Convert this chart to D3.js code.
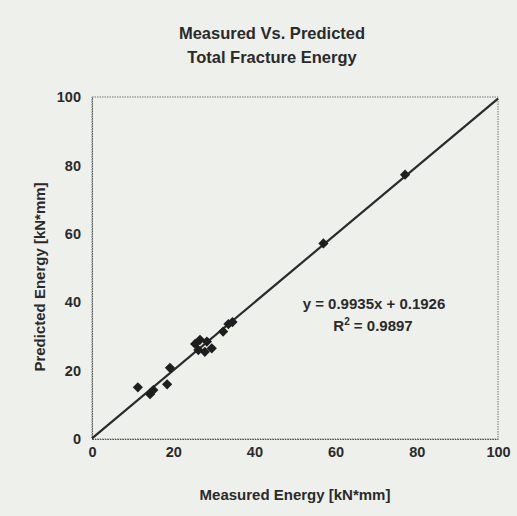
<!DOCTYPE html>
<html>
<head>
<meta charset="utf-8">
<script src="https://cdn.jsdelivr.net/npm/d3@7"></script>
<style>
html,body{margin:0;padding:0;background:#eef0ec;}
svg{display:block;}
text{font-family:"Liberation Sans",Arial,sans-serif;font-weight:bold;fill:#2a2a2a;}
</style>
</head>
<body>
<svg id="chart" width="517" height="516"></svg>
<script>
const titleLines = ["Measured Vs. Predicted", "Total Fracture Energy"];
const xLabel = "Measured Energy [kN*mm]";
const yLabel = "Predicted Energy [kN*mm]";
const tickValues = [0, 20, 40, 60, 80, 100];
const measured  = [11.3, 14.3, 15.1, 18.5, 19.2, 25.4, 26.6, 28.3, 27.8, 29.5, 26.2, 32.3, 33.6, 34.6, 57.0, 77.1];
const predicted = [15.1, 13.1, 14.3, 16.0, 20.8, 27.8, 29.0, 28.5, 25.5, 26.5, 26.0, 31.4, 33.6, 34.2, 57.2, 77.3];
const slope = 0.9935, intercept = 0.1926;
const eqText = "y = 0.9935x + 0.1926";
const r2Value = "0.9897";

const svg = d3.select("#chart");
const L = 92, R = 498, T = 97, B = 439;
const x = d3.scaleLinear().domain([0, 100]).range([L, R]);
const y = d3.scaleLinear().domain([0, 100]).range([B, T]);

// plot border (dotted)
svg.append("rect").attr("x", L).attr("y", T).attr("width", R - L).attr("height", B - T)
  .attr("fill", "none").attr("stroke", "#777").attr("stroke-width", 1).attr("stroke-dasharray", "1.5,1");

// axes
const xAxis = d3.axisBottom(x).tickValues(tickValues).tickSize(0).tickPadding(8);
const gx = svg.append("g").attr("transform", `translate(0,${B})`).call(xAxis);
gx.select(".domain").attr("stroke", "#555").attr("stroke-dasharray", "1.5,1");
gx.selectAll("text").style("font-size", "14.5px");

const yAxis = d3.axisLeft(y).tickValues(tickValues).tickSize(0).tickPadding(11);
const gy = svg.append("g").attr("transform", `translate(${L},0)`).call(yAxis);
gy.select(".domain").attr("stroke", "#555").attr("stroke-dasharray", "1.5,1");
gy.selectAll("text").style("font-size", "14.5px");

// trendline
const line = d3.line().x(d => x(d)).y(d => y(slope * d + intercept));
svg.append("path").datum([0, 100]).attr("d", line)
  .attr("fill", "none").attr("stroke", "#2a2a2a").attr("stroke-width", 2.2);

// points (diamonds = squares rotated 45deg)
const sym = d3.symbol().type(d3.symbolSquare).size(52);
svg.append("g").selectAll("path").data(measured).join("path")
  .attr("d", sym)
  .attr("transform", (d, i) => `translate(${x(d)},${y(predicted[i])}) rotate(45)`)
  .attr("fill", "#1e1e1e");

// title
svg.append("text").attr("x", 272).attr("y", 39).attr("text-anchor", "middle").style("font-size", "16.5px").text(titleLines[0]);
svg.append("text").attr("x", 272).attr("y", 63).attr("text-anchor", "middle").style("font-size", "16.5px").text(titleLines[1]);

// axis titles
svg.append("text").attr("x", 295).attr("y", 500).attr("text-anchor", "middle").style("font-size", "15px").text(xLabel);
svg.append("text").attr("transform", "translate(45,277) rotate(-90)").attr("text-anchor", "middle").style("font-size", "15px").text(yLabel);

// equation
svg.append("text").attr("x", 374).attr("y", 309).attr("text-anchor", "middle").style("font-size", "15px").text(eqText);
const r2 = svg.append("text").attr("x", 373).attr("y", 331).attr("text-anchor", "middle").style("font-size", "15px");
r2.append("tspan").text("R");
r2.append("tspan").attr("dy", -6).style("font-size", "10px").text("2");
r2.append("tspan").attr("dy", 6).text(" = " + r2Value);
</script>
</body>
</html>
